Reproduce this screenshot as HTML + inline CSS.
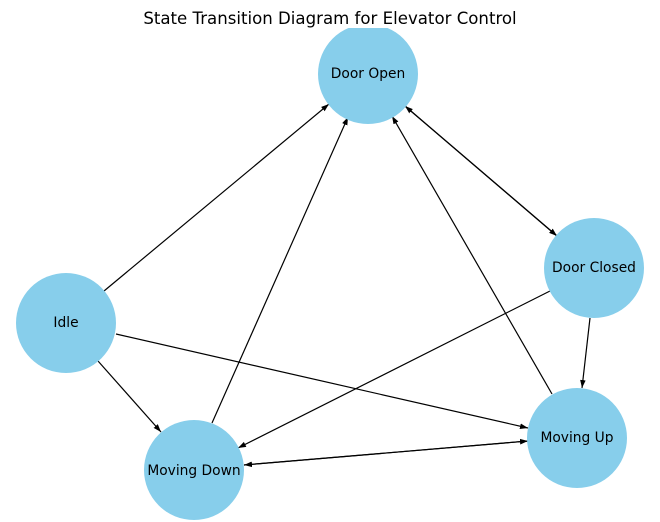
<!DOCTYPE html>
<html><head><meta charset="utf-8"><style>
html,body{margin:0;padding:0;background:#fff;}
svg{display:block;}
text{font-family:"DejaVu Sans","Liberation Sans",sans-serif;fill:#000;}
</style></head><body>
<svg width="660" height="522" viewBox="0 0 660 522" xmlns="http://www.w3.org/2000/svg">
<defs>
<marker id="a" viewBox="0 0 10 10" refX="10" refY="5" markerWidth="8" markerHeight="8" markerUnits="userSpaceOnUse" orient="auto">
<path d="M0,1.5 L10,5 L0,8.5 z" fill="#000"/>
</marker>
<clipPath id="c"><rect x="0" y="28" width="660" height="494"/></clipPath>
</defs>
<text x="330" y="24" font-size="16.6" text-anchor="middle">State Transition Diagram for Elevator Control</text>
<g stroke="#000" stroke-width="1.2" fill="none" marker-end="url(#a)">
<line x1="104" y1="291" x2="329" y2="104"/>
<line x1="98" y1="361" x2="161" y2="432"/>
<line x1="116" y1="334" x2="528" y2="428"/>
<line x1="212" y1="423" x2="348" y2="117"/>
<line x1="244" y1="465" x2="528" y2="441"/>
<line x1="528" y1="441" x2="244" y2="465"/>
<line x1="405" y1="106" x2="557" y2="236"/>
<line x1="557" y1="236" x2="405" y2="106"/>
<line x1="550" y1="291" x2="238" y2="448"/>
<line x1="590" y1="318" x2="582" y2="388"/>
<line x1="552" y1="394" x2="392" y2="116"/>
</g>
<g fill="#87ceeb">
<circle cx="368" cy="74" r="50" clip-path="url(#c)"/>
<circle cx="594" cy="268" r="50"/>
<circle cx="66" cy="323" r="50"/>
<circle cx="194" cy="470" r="50"/>
<circle cx="577" cy="438" r="50"/>
</g>
<g font-size="13.8" text-anchor="middle">
<text x="368" y="78">Door Open</text>
<text x="594" y="272">Door Closed</text>
<text x="66" y="327">Idle</text>
<text x="194" y="475">Moving Down</text>
<text x="577" y="442">Moving Up</text>
</g>
</svg>
</body></html>
